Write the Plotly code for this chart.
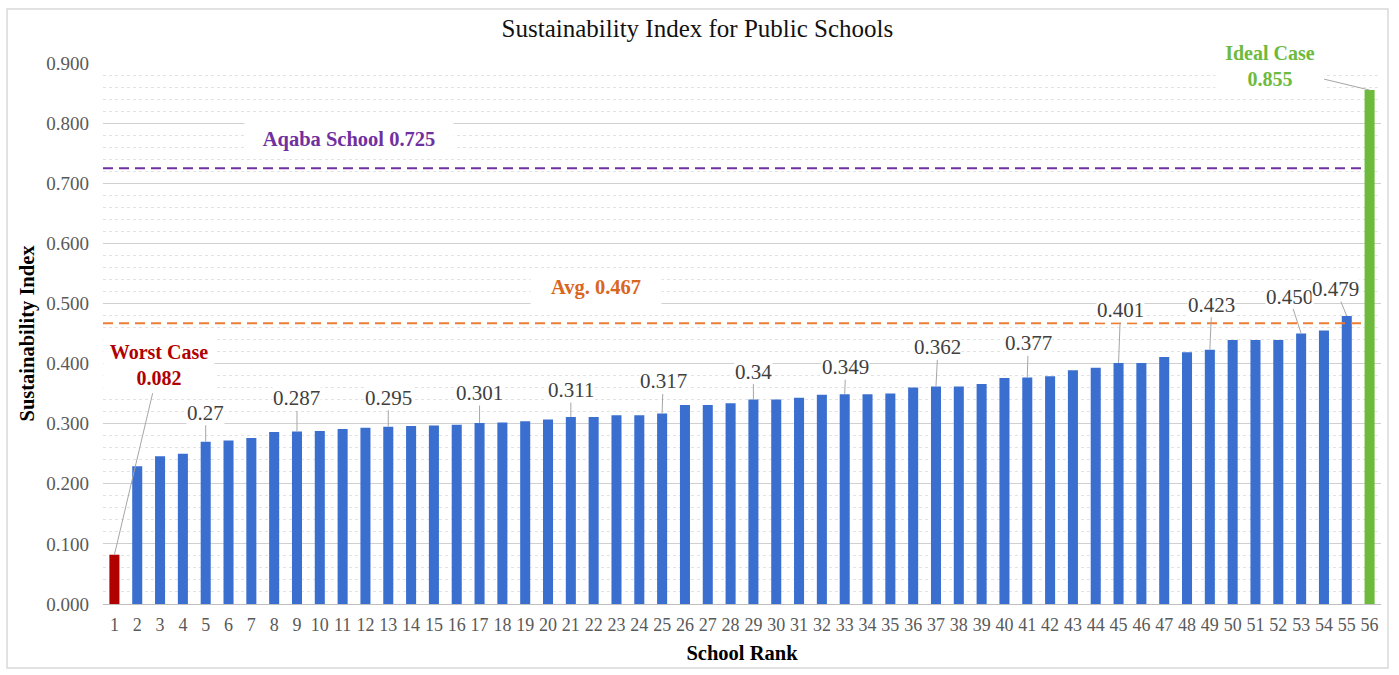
import plotly.graph_objects as go

# School ranks and their sustainability index values
ranks = list(range(1, 57))
index_values = [
    0.082, 0.229, 0.246, 0.250, 0.270, 0.272, 0.276, 0.286, 0.287, 0.288,
    0.291, 0.293, 0.295, 0.296, 0.297, 0.298, 0.301, 0.302, 0.304, 0.307,
    0.311, 0.311, 0.314, 0.314, 0.317, 0.331, 0.331, 0.334, 0.340, 0.340,
    0.343, 0.348, 0.349, 0.349, 0.350, 0.360, 0.362, 0.362, 0.366, 0.376,
    0.377, 0.379, 0.389, 0.393, 0.401, 0.401, 0.411, 0.419, 0.423, 0.439,
    0.439, 0.439, 0.450, 0.455, 0.479, 0.855,
]

# Reference levels
aqaba_value = 0.725
average_value = 0.467

# Ranks that carry a value call-out, with the text shown
labelled_ranks = [5, 9, 13, 17, 21, 25, 29, 33, 37, 41, 45, 49, 53, 55]
labelled_texts = ["0.27", "0.287", "0.295", "0.301", "0.311", "0.317", "0.34",
                  "0.349", "0.362", "0.377", "0.401", "0.423", "0.450", "0.479"]
# pixel offsets of each call-out from its bar top
label_offsets = [(0, -29), (0, -33), (0, -29), (0, -30), (0, -27), (1, -32),
                 (0, -28), (1, -27), (2, -39), (1, -34), (2, -53), (2, -45),
                 (-12, -37), (-11, -27)]

BLUE = "#3A6FD0"
RED = "#B00000"
GREEN = "#6DBA3C"
PURPLE = "#7030A0"
ORANGE = "#ED7D31"
SERIF = "Liberation Serif, Times New Roman, serif"

bar_colors = [BLUE] * len(ranks)
bar_colors[0] = RED
bar_colors[-1] = GREEN

fig = go.Figure()
fig.add_trace(go.Bar(
    x=ranks, y=index_values, marker=dict(color=bar_colors, line=dict(width=0)),
    width=0.44, hoverinfo="x+y", showlegend=False,
))

# Dashed reference lines
line_end = 55.7
fig.add_shape(type="line", x0=0.5, x1=line_end, y0=aqaba_value, y1=aqaba_value,
              xref="x", yref="y", line=dict(color=PURPLE, width=2, dash="10px,6px"))
fig.add_shape(type="line", x0=0.5, x1=line_end, y0=average_value, y1=average_value,
              xref="x", yref="y", line=dict(color=ORANGE, width=2, dash="10px,6px"))

# Outer frame around the chart
fig.add_shape(type="rect", xref="paper", yref="paper",
              x0=-0.0751, x1=1.0055, y0=-0.1183, y1=1.0998,
              line=dict(color="#D9D9D9", width=1.5), fillcolor="rgba(0,0,0,0)", layer="below")

annotations = []
for r, t, (ax, ay) in zip(labelled_ranks, labelled_texts, label_offsets):
    annotations.append(dict(
        x=r, y=index_values[r - 1], xref="x", yref="y", text=t,
        showarrow=True, arrowhead=0, arrowwidth=1, arrowcolor="#A6A6A6",
        ax=ax, ay=ay, standoff=0, bgcolor="white", borderpad=0,
        font=dict(family=SERIF, size=21, color="#404040"),
    ))

# Worst and ideal case call-outs
annotations.append(dict(
    x=ranks[0], y=index_values[0], xref="x", yref="y",
    text="<b>Worst Case</b><br><b>0.082</b>",
    showarrow=True, arrowhead=0, arrowwidth=1, arrowcolor="#A6A6A6",
    ax=45, ay=-190, standoff=0, bgcolor="white", width=108, height=54,
    font=dict(family=SERIF, size=20, color=RED),
))
annotations.append(dict(
    x=ranks[-1], y=index_values[-1], xref="x", yref="y",
    text="<b>Ideal Case</b><br><b>0.855</b>",
    showarrow=True, arrowhead=0, arrowwidth=1, arrowcolor="#A6A6A6",
    ax=-100, ay=-24, standoff=0, bgcolor="white", width=106, height=54,
    font=dict(family=SERIF, size=20, color=GREEN),
))

# Reference line captions
annotations.append(dict(
    x=11.28, y=0.773, xref="x", yref="y", text="<b>Aqaba School 0.725</b>",
    showarrow=False, bgcolor="white", width=206, height=36,
    font=dict(family=SERIF, size=20.5, color=PURPLE),
))
annotations.append(dict(
    x=22.1, y=0.527, xref="x", yref="y", text="<b>Avg. 0.467</b>",
    showarrow=False, bgcolor="white", width=128, height=34,
    font=dict(family=SERIF, size=20.5, color="#D9661F"),
))

fig.update_layout(
    width=1399, height=675,
    margin=dict(l=103, r=18, t=63, b=71),
    paper_bgcolor="white", plot_bgcolor="white",
    title=dict(text="Sustainability Index for Public Schools", x=0.4985, xanchor="center",
               y=0.958, yanchor="middle",
               font=dict(family=SERIF, size=25, color="#111111")),
    xaxis=dict(
        range=[0.5, 56.5], tickmode="array", tickvals=ranks,
        ticktext=[str(r) for r in ranks], showgrid=False, zeroline=False,
        showline=True, linecolor="#BFBFBF", linewidth=1, ticks="",
        ticklabelstandoff=4,
        tickfont=dict(family=SERIF, size=18, color="#595959"),
        title=dict(text="<b>School Rank</b>", standoff=12,
                   font=dict(family=SERIF, size=20.5, color="#000000")),
    ),
    yaxis=dict(
        range=[0, 0.9], dtick=0.1, tickformat=".3f", showgrid=True,
        gridcolor="#D0D0D0", gridwidth=1, zeroline=False, showline=False, ticks="",
        ticklabelstandoff=13,
        tickfont=dict(family=SERIF, size=19, color="#595959"),
        minor=dict(dtick=0.02, showgrid=True, gridcolor="#E3E3E3", griddash="dot", gridwidth=1),
        title=dict(text="<b>Sustainability Index</b>", standoff=6,
                   font=dict(family=SERIF, size=20.5, color="#000000")),
    ),
    annotations=annotations,
    bargap=0.56,
)

fig.write_html("out.html")
